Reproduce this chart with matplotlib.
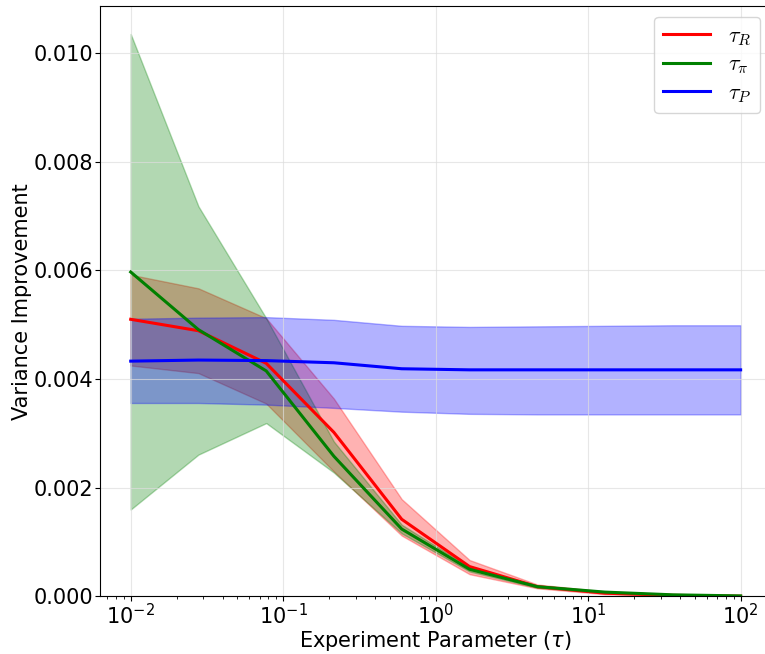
import numpy as np
import matplotlib
matplotlib.use("Agg")
import matplotlib.pyplot as plt

plt.rcParams['mathtext.fontset'] = 'cm'

# experiment parameter tau (log spaced points)
taus = [0.01, 0.0278, 0.0774, 0.215, 0.599, 1.668, 4.64, 12.9, 35.9, 100.0]

# tau_R
r_mean = [0.00510, 0.00489, 0.00429, 0.00302, 0.00142, 0.00055, 0.00018, 0.00006, 0.00002, 0.000005]
r_low  = [0.00425, 0.00411, 0.00355, 0.00230, 0.00112, 0.00041, 0.00015, 0.00004, 0.00001, 0.000003]
r_high = [0.00592, 0.00567, 0.00512, 0.00364, 0.00179, 0.00067, 0.00022, 0.00009, 0.00003, 0.00001]

# tau_pi
g_mean = [0.00597, 0.00491, 0.00415, 0.00258, 0.00124, 0.00050, 0.00018, 0.00008, 0.00003, 0.00001]
g_low  = [0.00160, 0.00261, 0.00319, 0.00228, 0.00116, 0.00046, 0.00016, 0.00007, 0.00002, 0.000005]
g_high = [0.01035, 0.00718, 0.00512, 0.00285, 0.00132, 0.00054, 0.00020, 0.00009, 0.00004, 0.000015]

# tau_P
b_mean = [0.00433, 0.00435, 0.00434, 0.00430, 0.00419, 0.00417, 0.00417, 0.00417, 0.00417, 0.00417]
b_low  = [0.00356, 0.00356, 0.00353, 0.00347, 0.00340, 0.00336, 0.00335, 0.00335, 0.00335, 0.00335]
b_high = [0.00511, 0.00513, 0.00514, 0.00509, 0.00498, 0.00496, 0.00497, 0.00498, 0.00499, 0.00499]

labels = [r'$\tau_R$', r'$\tau_\pi$', r'$\tau_P$']
colors = ['red', 'green', 'blue']

fig, ax = plt.subplots(figsize=(7.65, 6.54), dpi=100)
# axes runs slightly past the right edge, as in the cropped original
fig.subplots_adjust(left=0.131, right=1.008, top=0.991, bottom=0.088)

series = [(r_mean, r_low, r_high), (g_mean, g_low, g_high), (b_mean, b_low, b_high)]
for (m, lo, hi), lab, c in zip(series, labels, colors):
    ax.plot(taus, m, color=c, lw=2.2, label=lab)
    ax.fill_between(taus, lo, hi, color=c, alpha=0.3)

ax.set_xscale('log')
ax.set_ylim(bottom=0)
ax.set_yticks([0, 0.002, 0.004, 0.006, 0.008, 0.010])
ax.set_yticklabels(['0.000', '0.002', '0.004', '0.006', '0.008', '0.010'])
ax.grid(True, color='#dddddd', alpha=0.7)
ax.tick_params(labelsize=15, pad=1.5)
ax.set_xlabel(r'Experiment Parameter ($\tau$)', fontsize=15, labelpad=0,
              math_fontfamily='dejavusans')
ax.set_ylabel('Variance Improvement', fontsize=15, labelpad=1)
ax.legend(loc='upper right', fontsize=16, handlelength=2.1, labelspacing=0.3)

fig.savefig('out.png')
